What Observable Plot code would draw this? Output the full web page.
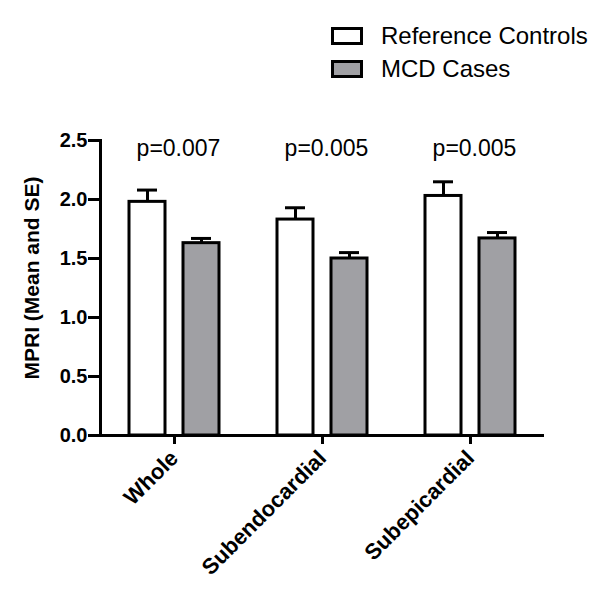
<!DOCTYPE html>
<html>
<head>
<meta charset="utf-8">
<script src="https://cdn.jsdelivr.net/npm/d3@7"></script>
<script src="https://cdn.jsdelivr.net/npm/@observablehq/plot@0.6"></script>
<style>
  body { margin: 0; background: #fff; font-family: "Liberation Sans", Arial, sans-serif; }
  #legend { position: relative; width: 609px; height: 100px; }
  .box { position: absolute; left: 331px; width: 26px; height: 12px; border: 3px solid #000; }
  .lab { position: absolute; left: 381px; font-size: 24px; line-height: 18px; color: #000; }
</style>
</head>
<body>
<div id="legend"></div>
<div id="chart"></div>
<script>
const categories = ["Whole", "Subendocardial", "Subepicardial"];
const series = ["Reference Controls", "MCD Cases"];
const refMean = [1.98, 1.83, 2.03];
const refSE = [0.10, 0.10, 0.12];
const mcdMean = [1.63, 1.50, 1.67];
const mcdSE = [0.04, 0.05, 0.05];
const pValues = ["p=0.007", "p=0.005", "p=0.005"];
const yTicks = [0, 0.5, 1.0, 1.5, 2.0, 2.5];
const colors = ["#ffffff", "#a0a0a4"];

const data = [];
categories.forEach((c, i) => {
  data.push({cat: c, series: series[0], mean: refMean[i], se: refSE[i]});
  data.push({cat: c, series: series[1], mean: mcdMean[i], se: mcdSE[i]});
});
const pData = categories.map((c, i) => ({cat: c, p: pValues[i]}));

// legend
const legend = document.getElementById("legend");
series.forEach((s, i) => {
  const top = 27 + i * 33;
  const b = document.createElement("div");
  b.className = "box";
  b.style.top = top + "px";
  b.style.background = colors[i];
  legend.appendChild(b);
  const t = document.createElement("div");
  t.className = "lab";
  t.style.top = top + "px";
  t.textContent = s;
  legend.appendChild(t);
});

const chart = Plot.plot({
  width: 609,
  height: 502,
  marginLeft: 99,
  marginRight: 64,
  marginTop: 40,
  marginBottom: 167,
  style: {fontFamily: "'Liberation Sans', Arial, sans-serif", color: "#000", background: "#fff"},
  fx: {domain: categories, padding: 0, label: null},
  x: {domain: series, paddingInner: 0.327, paddingOuter: 0.509, axis: null},
  y: {domain: [0, 2.5]},
  color: {domain: series, range: colors},
  marks: [
    Plot.barY(data, {fx: "cat", x: "series", y: "mean", fill: "series", stroke: "#000", strokeWidth: 3}),
    Plot.ruleX(data, {fx: "cat", x: "series", y1: "mean", y2: d => d.mean + d.se, stroke: "#000", strokeWidth: 3}),
    Plot.tickY(data, {fx: "cat", x: "series", y: d => d.mean + d.se, inset: 8, stroke: "#000", strokeWidth: 3}),
    Plot.text(pData, {fx: "cat", text: "p", frameAnchor: "top", dy: 8, fontSize: 23, lineAnchor: "middle", dx: 4}),
    Plot.ruleY([0], {stroke: "#000", strokeWidth: 3}),
    Plot.frame({anchor: "left", facetAnchor: "left", stroke: "#000", strokeWidth: 3}),
    Plot.axisY({
      ticks: yTicks, tickFormat: d3.format(".1f"), tickSize: 12, tickPadding: 1,
      strokeWidth: 3, fontSize: 20, fontWeight: "bold",
      label: "MPRI (Mean and SE)", labelAnchor: "center", labelOffset: 76, labelArrow: "none"
    }),
    Plot.axisFx({
      anchor: "bottom", tickRotate: -45, tickSize: 9, tickPadding: 10, strokeWidth: 3,
      fontSize: 22, fontWeight: "bold", label: null
    })
  ]
});
chart.querySelectorAll("g[aria-label='y-axis label']").forEach(g => {
  g.setAttribute("font-size", 21);
  g.setAttribute("font-weight", "bold");
  g.querySelectorAll("text").forEach(t => { t.setAttribute("font-size", 21); t.style.fontSize = "21px"; });
  const tr = g.getAttribute("transform") || "";
  g.setAttribute("transform", (tr + " translate(0,-10)").trim());
});
document.getElementById("chart").appendChild(chart);
</script>
</body>
</html>
